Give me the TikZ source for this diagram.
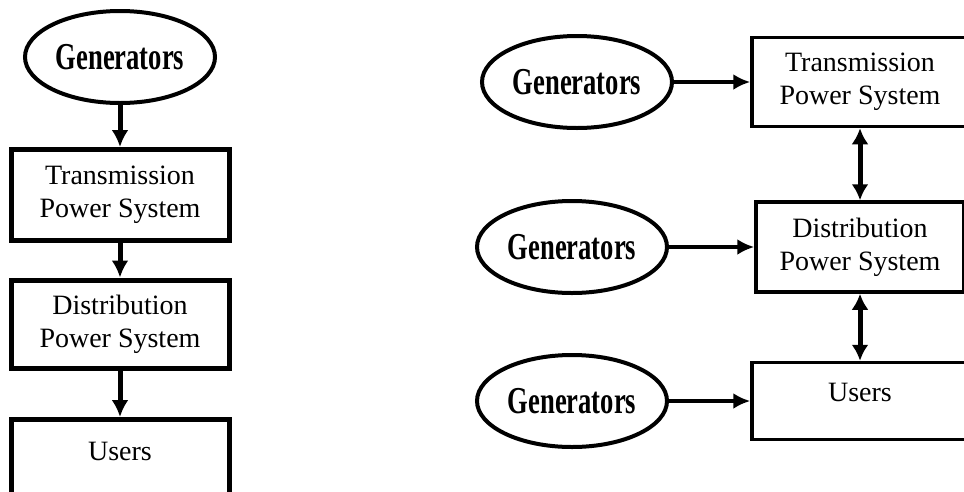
\documentclass[tikz,border=0pt]{standalone}
\usepackage{fontspec}
\setmainfont{Liberation Serif}
\newfontfamily\genfont[FakeStretch=0.7]{Liberation Serif Bold}
\usetikzlibrary{shapes.geometric,arrows.meta}
\begin{document}
\begin{tikzpicture}
	[x=1pt,y=-1pt,
	every ellipse node/.style={draw,line width=4pt,minimum width=190pt,minimum height=92pt,inner sep=0pt,font=\genfont\fontsize{38}{38}\selectfont},
	sysbox/.style={draw,align=center,inner sep=0pt,font=\fontsize{28}{33}\selectfont}]
	\clip (0,0) rectangle (964,491);
	\node[ellipse,minimum width=184pt,minimum height=89pt] (A) at (120,57) {Generators};
	\node[sysbox,line width=5pt,minimum width=218pt,minimum height=91pt] (B) at (120,195) {Transmission\\Power System};
	\node[sysbox,line width=5pt,minimum width=218pt,minimum height=88pt] (C) at (120,324) {Distribution\\Power System};
	\node[sysbox,line width=5pt,minimum width=218pt,minimum height=100pt,anchor=north,text height=19pt,text depth=37pt] (D) at (120,417) {Users};
	\node[ellipse] (E) at (577,82) {Generators};
	\node[ellipse] (F) at (572,247) {Generators};
	\node[ellipse] (G) at (572,401) {Generators};
	\node[sysbox,line width=3.5pt,minimum width=216pt,minimum height=89pt] (H) at (860,82) {Transmission\\Power System};
	\node[sysbox,line width=3.5pt,minimum width=208pt,minimum height=90pt] (I) at (860,247) {Distribution\\Power System};
	\node[sysbox,line width=3.5pt,minimum width=216pt,minimum height=77pt,text height=19pt,text depth=18pt] (J) at (860,401) {Users};
	\path[-{Latex[length=17pt,width=17pt]},draw,line width=5pt]
	(A) edge (B)
	(B) edge (C)
	(C) edge (D);
	\path[-{Latex[length=17pt,width=16pt]},draw,line width=4pt]
	(E) edge (H)
	(F) edge (I)
	(G) edge (J);
	\path[{Latex[length=16pt,width=17pt]}-{Latex[length=16pt,width=17pt]},draw,line width=5pt]
	(H) edge (I)
	(I) edge (J);
\end{tikzpicture}
\end{document}
